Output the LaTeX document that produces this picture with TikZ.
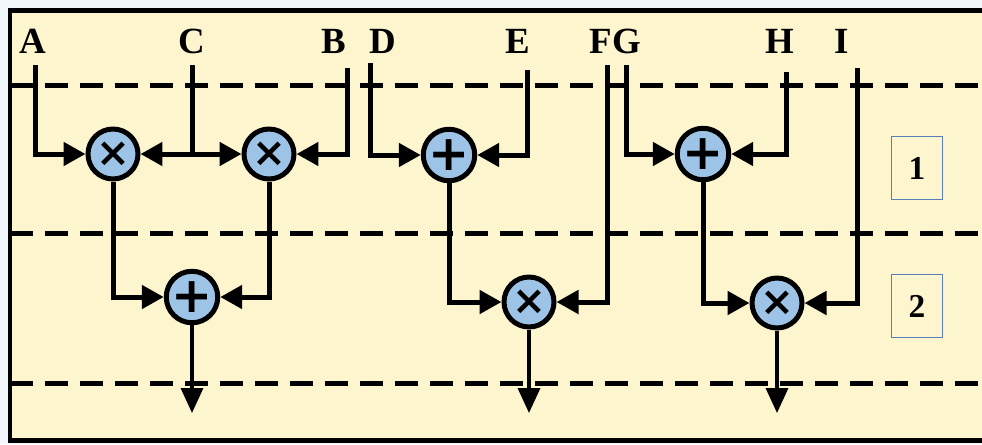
\documentclass[tikz,border=0pt]{standalone}
\usepackage{fontspec}
\setmainfont{Liberation Serif}
\newfontfamily\opfont{DejaVu Sans}
\usetikzlibrary{arrows.meta, positioning}
\definecolor{stageYellow}{HTML}{FCF5CE}
\definecolor{paperBlue}{HTML}{F1F7FA}
\definecolor{opBlue}{HTML}{9DC3E6}
\definecolor{boxBlue}{HTML}{5B7FB8}

\begin{document}
\begin{tikzpicture}[
  x=0.02cm, y=-0.02cm,
  >={Triangle[length=0.44cm, width=0.46cm]},
  sig/.style={anchor=base, inner sep=0pt, font=\fontsize{21}{21}\selectfont\bfseries},
  mulop/.style={circle, draw=black, line width=0.1cm, fill=opBlue, minimum size=1.0cm,
                inner sep=0pt, font=\opfont\bfseries\fontsize{23}{23}\selectfont},
  addop/.style={mulop, font=\opfont\bfseries\fontsize{28}{28}\selectfont},
  stagebox/.style={draw=boxBlue, line width=0.03cm, minimum width=1.02cm, minimum height=1.26cm,
                   inner sep=0pt, font=\fontsize{19}{19}\selectfont\bfseries},
  line/.style={->, line width=0.1cm, draw=black},
  outarrow/.style={-{Triangle[length=0.5cm, width=0.44cm]}, line width=0.07cm, draw=black},
  stagecut/.style={line width=0.1cm, dash pattern=on 0.46cm off 0.24cm},
  frame/.style={line width=0.1cm}
]
\useasboundingbox (0,0) rectangle (982,444);
\fill[paperBlue] (0,0) rectangle (982,444);
\fill[stageYellow] (10,10) rectangle (982,440);
\draw[frame] (982,10) -- (10,10) -- (10,440) -- (982,440);

% pipeline stage boundaries
\foreach \y in {85,233,383}
  \draw[stagecut] (10,\y) -- (982,\y);

% input names
\node[sig] (nA) at (33,53) {A};
\node[sig] (nC) at (192,53) {C};
\node[sig] (nB) at (334,53) {B};
\node[sig] (nD) at (383,53) {D};
\node[sig] (nE) at (518,53) {E};
\node[sig] (nF) at (601,53) {F};
\node[sig] (nG) at (627,53) {G};
\node[sig] (nH) at (780,53) {H};
\node[sig] (nI) at (842,53) {I};

\coordinate (inA) at (35,65);
\coordinate (inC) at (192,65);
\coordinate (inB) at (347,68);
\coordinate (inD) at (370,63);
\coordinate (inE) at (527,70);
\coordinate (inF) at (607,65);
\coordinate (inG) at (626,65);
\coordinate (inH) at (786,72);
\coordinate (inI) at (857,68);

% operators
\node[mulop] (mul1) at (113,154) {×};
\node[mulop] (mul2) at (269,154) {×};
\node[addop] (add1) at (449,155) {+};
\node[addop] (add2) at (703,154) {+};
\node[addop] (add3) at (192,297) {+};
\node[mulop] (mul3) at (529,302) {×};
\node[mulop] (mul4) at (777,303) {×};

\node[stagebox] (st1) at (917,168) {1};
\node[stagebox] (st2) at (917,306) {2};

\coordinate (out1) at (192,413);
\coordinate (out2) at (529,413);
\coordinate (out3) at (777,413);

\draw[line] (inA) |- (mul1);
\draw[line] (inC) |- (mul1);
\draw[line] (inC) |- (mul2);
\draw[line] (inB) |- (mul2);
\draw[line] (inD) |- (add1);
\draw[line] (inE) |- (add1);
\draw[line] (inG) |- (add2);
\draw[line] (inH) |- (add2);
\draw[line] (mul1) |- (add3);
\draw[line] (mul2) |- (add3);
\draw[line] (add1) |- (mul3);
\draw[line] (inF) |- (mul3);
\draw[line] (add2) |- (mul4);
\draw[line] (inI) |- (mul4);
\draw[outarrow] (add3) -- (out1);
\draw[outarrow] (mul3) -- (out2);
\draw[outarrow] (mul4) -- (out3);

\end{tikzpicture}
\end{document}
